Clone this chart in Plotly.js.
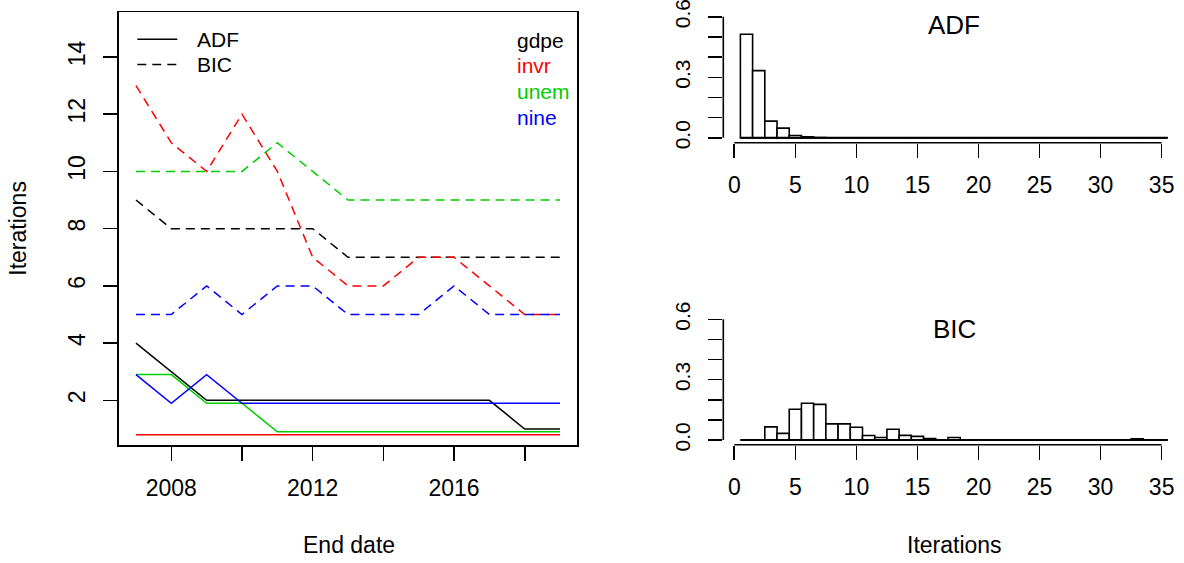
<!DOCTYPE html>
<html><head><meta charset="utf-8">
<script src="https://cdn.plot.ly/plotly-3.0.1.min.js"></script>
<style>html,body{margin:0;padding:0;background:#fff;} #chart{width:1184px;height:563px;}</style>
</head><body><div id="chart"></div>
<script>
// ---------- data ----------
const years = [2007,2008,2009,2010,2011,2012,2013,2014,2015,2016,2017,2018,2019];
const seriesNames = ['gdpe','invr','unem','nine'];
const seriesColors = ['#000000','#FF0000','#00CD00','#0000FF'];
const adfGdpe = [4,3,2,2,2,2,2,2,2,2,2,1,1];
const adfInvr = [0.8,0.8,0.8,0.8,0.8,0.8,0.8,0.8,0.8,0.8,0.8,0.8,0.8];
const adfUnem = [2.9,2.9,1.9,1.9,0.9,0.9,0.9,0.9,0.9,0.9,0.9,0.9,0.9];
const adfNine = [2.9,1.9,2.9,1.9,1.9,1.9,1.9,1.9,1.9,1.9,1.9,1.9,1.9];
const bicGdpe = [9,8,8,8,8,8,7,7,7,7,7,7,7];
const bicInvr = [13,11,10,12,10,7,6,6,7,7,6,5,5];
const bicUnem = [10,10,10,10,11,10,9,9,9,9,9,9,9];
const bicNine = [5,5,6,5,6,6,5,5,5,6,5,5,5];
const methodNames = ['ADF','BIC'];
const xTickVals = [2008,2010,2012,2014,2016,2018];
const xTickText = ['2008','','2012','','2016',''];
const yTickVals = [2,4,6,8,10,12,14];

const iterBins = [1,2,3,4,5,6,7,8,9,10,11,12,13,14,15,16,17,18,19,20,21,22,23,24,25,26,27,28,29,30,31,32,33,34,35];
const adfDensity = [0.513,0.333,0.083,0.048,0.012,0.005,0.002,0,0,0,0,0,0,0,0,0,0,0,0,0,0,0,0,0,0,0,0,0,0,0,0,0,0,0,0];
const bicDensity = [0,0,0.065,0.033,0.153,0.183,0.177,0.080,0.080,0.063,0.022,0.012,0.053,0.023,0.018,0.007,0,0.012,0,0,0,0,0,0,0,0,0,0,0,0,0,0,0.006,0,0];
const histXTicks = [0,5,10,15,20,25,30,35];
const histYTicks = [0,0.1,0.2,0.3,0.4,0.5,0.6];
const histYText = ['0.0','','','0.3','','','0.6'];

// ---------- layout helpers ----------
const W = 1184, H = 563;
const PX = p => p / W;
const PY = p => 1 - p / H;
const FONT = 'Liberation Sans, Arial, Helvetica, sans-serif';
const FS = 23;
const FSLEG = 21;
const FSHY = 21;
const LW = 1.6;

const adfSets = [adfGdpe, adfInvr, adfUnem, adfNine];
const bicSets = [bicGdpe, bicInvr, bicUnem, bicNine];
const traces = [];
adfSets.forEach((ys, i) => traces.push({
  type: 'scatter', mode: 'lines', x: years, y: ys, xaxis: 'x', yaxis: 'y',
  line: {color: seriesColors[i], width: 1.5}, name: methodNames[0] + ' ' + seriesNames[i], showlegend: false
}));
bicSets.forEach((ys, i) => traces.push({
  type: 'scatter', mode: 'lines', x: years, y: ys, xaxis: 'x', yaxis: 'y',
  line: {color: seriesColors[i], width: 1.5, dash: '9px,6px'}, name: methodNames[1] + ' ' + seriesNames[i], showlegend: false
}));
// histograms
[[adfDensity, 'x2', 'y2'], [bicDensity, 'x3', 'y3']].forEach(([d, xa, ya]) => {
  traces.push({type: 'bar', x: iterBins, y: d, width: 1, xaxis: xa, yaxis: ya,
    marker: {color: '#ffffff', line: {color: '#000000', width: LW}}, showlegend: false});
  traces.push({type: 'scatter', mode: 'lines', xaxis: xa, yaxis: ya,
    x: [iterBins[0] - 0.5, iterBins[iterBins.length - 1] + 0.5], y: [0, 0],
    line: {color: '#000000', width: 2}, showlegend: false});
});

const tickCommon = {ticks: 'outside', ticklen: 14, tickwidth: LW, tickcolor: '#000', ticklabeloverflow: 'allow',
  showgrid: false, zeroline: false, tickfont: {family: FONT, size: FS, color: '#000'}};
const histYFont = {family: FONT, size: FSHY, color: '#000'};

const histXRange = [-0.9, (W - 734.3) / 12.21];
const layout = {
  width: W, height: H, margin: {l: 0, r: 0, t: 0, b: 0},
  paper_bgcolor: '#fff', plot_bgcolor: 'rgba(0,0,0,0)', showlegend: false, bargap: 0,
  font: {family: FONT, size: FS, color: '#000'},
  xaxis: Object.assign({}, tickCommon, {domain: [PX(119), PX(577)], range: [2006.52, 2019.48],
    tickvals: xTickVals, ticktext: xTickText, showline: true, mirror: true, linewidth: LW, linecolor: '#000',
    ticklabelstandoff: 8, anchor: 'y'}),
  yaxis: Object.assign({}, tickCommon, {domain: [PY(445), PY(12.3)], range: [0.44, 15.56],
    tickvals: yTickVals, tickangle: -90, showline: true, mirror: true, linewidth: LW, linecolor: '#000',
    ticklabelstandoff: 9, anchor: 'x'}),
  xaxis2: Object.assign({}, tickCommon, {domain: [PX(723.3), 1], range: histXRange, tickvals: histXTicks,
    showline: false, anchor: 'y2', ticklabelstandoff: 8}),
  yaxis2: Object.assign({}, tickCommon, {domain: [PY(142.7), PY(11.9)], range: [-0.024, 0.624], tickfont: histYFont,
    tickvals: histYTicks, ticktext: histYText, tickangle: -90, showline: false, anchor: 'x2', ticklabelstandoff: 10}),
  xaxis3: Object.assign({}, tickCommon, {domain: [PX(723.3), 1], range: histXRange, tickvals: histXTicks,
    showline: false, anchor: 'y3', ticklabelstandoff: 8}),
  yaxis3: Object.assign({}, tickCommon, {domain: [PY(444.8), PY(314.5)], range: [-0.024, 0.624], tickfont: histYFont,
    tickvals: histYTicks, ticktext: histYText, tickangle: -90, showline: false, anchor: 'x3', ticklabelstandoff: 10}),
  shapes: [],
  annotations: []
};

// R-style axis lines for histograms (span first to last tick)
[['x2', 'y2'], ['x3', 'y3']].forEach(([xa, ya]) => {
  layout.shapes.push({type: 'line', xref: xa, yref: ya + ' domain', x0: histXTicks[0], x1: histXTicks[histXTicks.length - 1], y0: 0, y1: 0, line: {color: '#000', width: LW}});
  layout.shapes.push({type: 'line', xref: xa + ' domain', yref: ya, x0: 0, x1: 0, y0: histYTicks[0], y1: histYTicks[histYTicks.length - 1], line: {color: '#000', width: LW}});
});

// legend (line types)
const legY = [39.3, 64.5];
methodNames.forEach((m, i) => {
  layout.shapes.push({type: 'line', xref: 'paper', yref: 'paper', x0: PX(137.3), x1: PX(177.3), y0: PY(legY[i]), y1: PY(legY[i]),
    line: {color: '#000', width: 1.5, dash: i === 0 ? 'solid' : '9px,6px'}});
  layout.annotations.push({xref: 'paper', yref: 'paper', x: PX(195), y: PY(legY[i]), xanchor: 'left', yanchor: 'middle',
    text: m, showarrow: false, font: {family: FONT, size: FSLEG, color: '#000'}});
});
// legend (series colours)
const legY2 = [40, 65.7, 91.4, 117.1];
seriesNames.forEach((s, i) => {
  layout.annotations.push({xref: 'paper', yref: 'paper', x: PX(515), y: PY(legY2[i]), xanchor: 'left', yanchor: 'middle',
    text: s, showarrow: false, font: {family: FONT, size: FSLEG, color: seriesColors[i]}});
});
// axis titles
layout.annotations.push({xref: 'paper', yref: 'paper', x: PX(349), y: PY(545), xanchor: 'center', yanchor: 'middle', text: 'End date', showarrow: false});
layout.annotations.push({xref: 'paper', yref: 'paper', x: PX(954), y: PY(545), xanchor: 'center', yanchor: 'middle', text: 'Iterations', showarrow: false});
layout.annotations.push({xref: 'paper', yref: 'paper', x: PX(18), y: PY(228.7), xanchor: 'center', yanchor: 'middle', text: 'Iterations', textangle: -90, showarrow: false});
// histogram titles
layout.annotations.push({xref: 'paper', yref: 'paper', x: PX(954), y: PY(25.5), xanchor: 'center', yanchor: 'middle', text: methodNames[0], showarrow: false, font: {family: FONT, size: 26}});
layout.annotations.push({xref: 'paper', yref: 'paper', x: PX(954), y: PY(329), xanchor: 'center', yanchor: 'middle', text: methodNames[1], showarrow: false, font: {family: FONT, size: 26}});

Plotly.newPlot('chart', traces, layout, {displayModeBar: false, staticPlot: true});
</script>
</body></html>
